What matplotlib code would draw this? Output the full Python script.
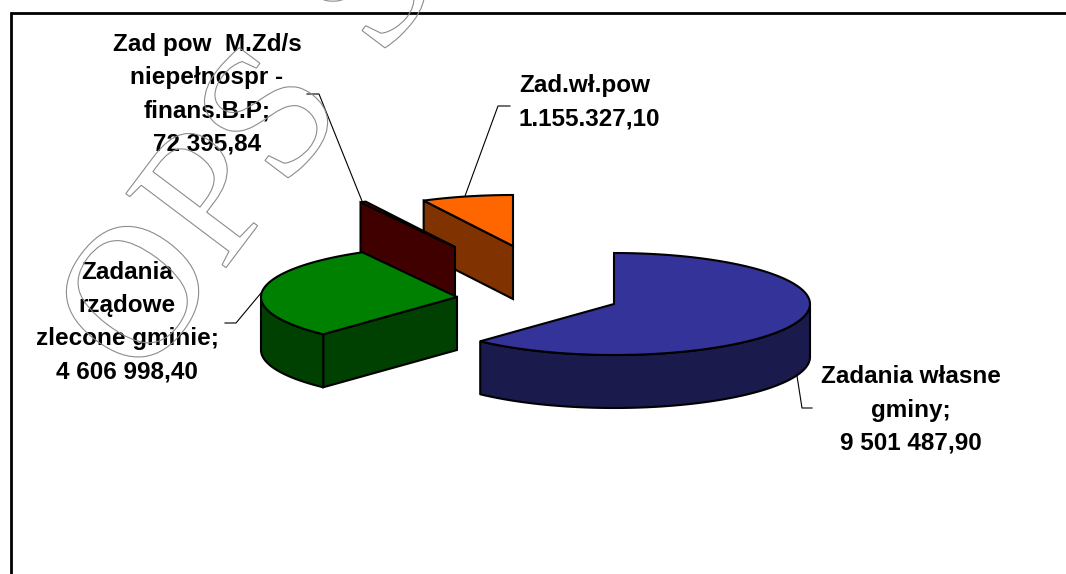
import numpy as np
import matplotlib
matplotlib.use('Agg')
import matplotlib.pyplot as plt
import matplotlib.patheffects as pe

# slices in drawing order, clockwise from 12 o'clock
names = ['Zadania własne gminy', 'Zadania rządowe zlecone gminie', 'Zad pow M.Zd/s niepełnospr - finans.B.P', 'Zad.wł.pow']
values = [9501487.90, 4606998.40, 72395.84, 1155327.10]
labels = ['Zadania własne\ngminy;\n9 501 487,90',
          'Zadania\nrządowe\nzlecone gminie;\n4 606 998,40',
          'Zad pow  M.Zd/s\nniepełnospr -\nfinans.B.P;\n72 395,84',
          'Zad.wł.pow\n1.155.327,10']
top_colors = ['#333399', '#008000', '#800000', '#ff6600']
side_colors = ['#1a1a4d', '#004000', '#400000', '#803300']
stamp_letters = ['O', 'P', 'S', 'S']

# exploded centres of the slices, in pixels
centres = [(614, 304), (457, 297), (455, 247), (513, 246)]
RX, RY, DEPTH = 196, 51, 53
LW = 1.5

plt.rcParams['font.family'] = ['Liberation Sans', 'DejaVu Sans']
fig = plt.figure(figsize=(10.66, 5.74), dpi=100)
ax = fig.add_axes([0, 0, 1, 1])
ax.set_xlim(0, 1066)
ax.set_ylim(574, 0)
ax.axis('off')

# chart frame, cut off by the image on the right and at the bottom
ax.plot([10.5, 10.5, 1066], [574, 12.5, 12.5], color='black', lw=2, solid_joinstyle='miter')


def rim(c, t0, t1):
    t = np.radians(np.linspace(t0, t1, 120))
    return c[0] + RX * np.sin(t), c[1] - RY * np.cos(t)


def draw_slice(c, t0, t1, top, side, z):
    # radial cut face, only when it looks towards the viewer
    if 180 < t0 < 360:
        x, y = rim(c, t0, t0)
        ax.fill([c[0], x[0], x[0], c[0]], [c[1], y[0], y[0] + DEPTH, c[1] + DEPTH],
                facecolor=side, edgecolor='black', lw=LW, zorder=z, joinstyle='miter')
    # outer wall, front half of the ellipse only
    a, b = max(t0, 90), min(t1, 270)
    if a < b:
        x, y = rim(c, a, b)
        ax.fill(np.r_[x, x[::-1]], np.r_[y, y[::-1] + DEPTH],
                facecolor=side, edgecolor='black', lw=LW, zorder=z, joinstyle='round')
    x, y = rim(c, t0, t1)
    ax.fill(np.r_[c[0], x], np.r_[c[1], y], facecolor=top, edgecolor='black', lw=LW,
            zorder=z + 0.1, joinstyle='miter')


edges = np.r_[0, np.cumsum(values)] / np.sum(values) * 360
for i in [3, 2, 1, 0]:
    draw_slice(centres[i], edges[i], edges[i + 1], top_colors[i], side_colors[i], 5 + (3 - i))

# leader lines
leaders = [([812, 802, 797], [408, 408, 376]),
           ([225, 236, 261], [323, 323, 293]),
           ([307, 319, 362], [94, 94, 201]),
           ([510, 498, 465], [106, 106, 196])]
for lx, ly in leaders:
    ax.plot(lx, ly, color='black', lw=0.8, zorder=4)

label_pos = [(911, 410, 'center'), (127, 322, 'center'), (207, 94, 'center'), (519, 102, 'left')]
for txt, (x, y, ha) in zip(labels, label_pos):
    ax.text(x, y, txt, ha=ha, va='center', ma=ha, fontsize=17.5, fontweight='bold',
            linespacing=1.56, color='black', zorder=12)

# stamp across the chart, outline only
stamp_pos = [(141, 384), (222, 273), (284, 191), (381, 61)]
for ch, (x, y) in zip(stamp_letters, stamp_pos):
    ax.text(x, y, ch, fontsize=137, family='Liberation Serif', rotation=53, rotation_mode='anchor',
            ha='left', va='baseline', zorder=13,
            path_effects=[pe.PathPatchEffect(edgecolor='#8c8c8c', facecolor='none', linewidth=0.8)])

fig.savefig('out.png', dpi=100)
